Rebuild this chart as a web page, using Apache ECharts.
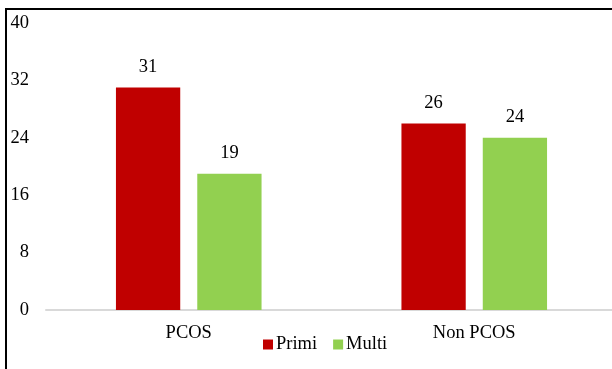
<!DOCTYPE html>
<html>
<head>
<meta charset="utf-8">
<script src="https://cdn.jsdelivr.net/npm/echarts@6/dist/echarts.min.js"></script>
<style>
  html, body { margin: 0; padding: 0; background: #fff; }
  #chart { width: 612px; height: 369px; }
</style>
</head>
<body>
<div id="chart"></div>
<script>
// Group labels along the x axis
const categories = ['PCOS', 'Non PCOS'];
// Counts per group
const primiValues = [31, 26];
const multiValues = [19, 24];
// Value axis range and step
const yTicks = [0, 8, 16, 24, 32, 40];

const FONT = '"Liberation Serif", "Times New Roman", serif';
const FONT_SIZE = 18.5;

const chart = echarts.init(document.getElementById('chart'), null, { renderer: 'canvas' });

const labelStyle = {
  show: true,
  position: 'top',
  distance: 11,
  color: '#000',
  fontFamily: FONT,
  fontSize: FONT_SIZE
};

chart.setOption({
  animation: false,
  backgroundColor: '#fff',
  grid: {
    left: 46, top: 23, width: 571, height: 287,
    containLabel: false,
    outerBoundsMode: 'none'
  },
  graphic: [{
    type: 'rect',
    silent: true,
    z: 100,
    shape: { x: 6, y: 9, width: 700, height: 500 },
    style: { fill: 'none', stroke: '#000', lineWidth: 2 }
  }],
  legend: {
    left: 263,
    top: 335,
    padding: 0,
    itemWidth: 10,
    itemHeight: 10,
    itemGap: 16,
    icon: 'rect',
    textStyle: { color: '#000', fontFamily: FONT, fontSize: FONT_SIZE, padding: [0, 0, 0, -2] },
    data: ['Primi', 'Multi']
  },
  xAxis: {
    type: 'category',
    data: categories,
    axisLine: { show: true, lineStyle: { color: '#d9d9d9', width: 2 } },
    axisTick: { show: false },
    axisLabel: { color: '#000', fontFamily: FONT, fontSize: FONT_SIZE, margin: 14 }
  },
  yAxis: {
    type: 'value',
    min: yTicks[0],
    max: yTicks[yTicks.length - 1],
    interval: yTicks[1] - yTicks[0],
    axisLine: { show: false },
    axisTick: { show: false },
    splitLine: { show: false },
    axisLabel: {
      color: '#000', fontFamily: FONT, fontSize: FONT_SIZE, margin: 17,
      padding: [4, 0, 0, 0]
    }
  },
  series: [
    {
      name: 'Primi',
      type: 'bar',
      data: primiValues,
      barGap: '26.5%',
      barCategoryGap: '49%',
      itemStyle: { color: '#C00000' },
      label: labelStyle
    },
    {
      name: 'Multi',
      type: 'bar',
      data: multiValues,
      barGap: '26.5%',
      barCategoryGap: '49%',
      itemStyle: { color: '#92D050' },
      label: labelStyle
    }
  ]
});
</script>
</body>
</html>
